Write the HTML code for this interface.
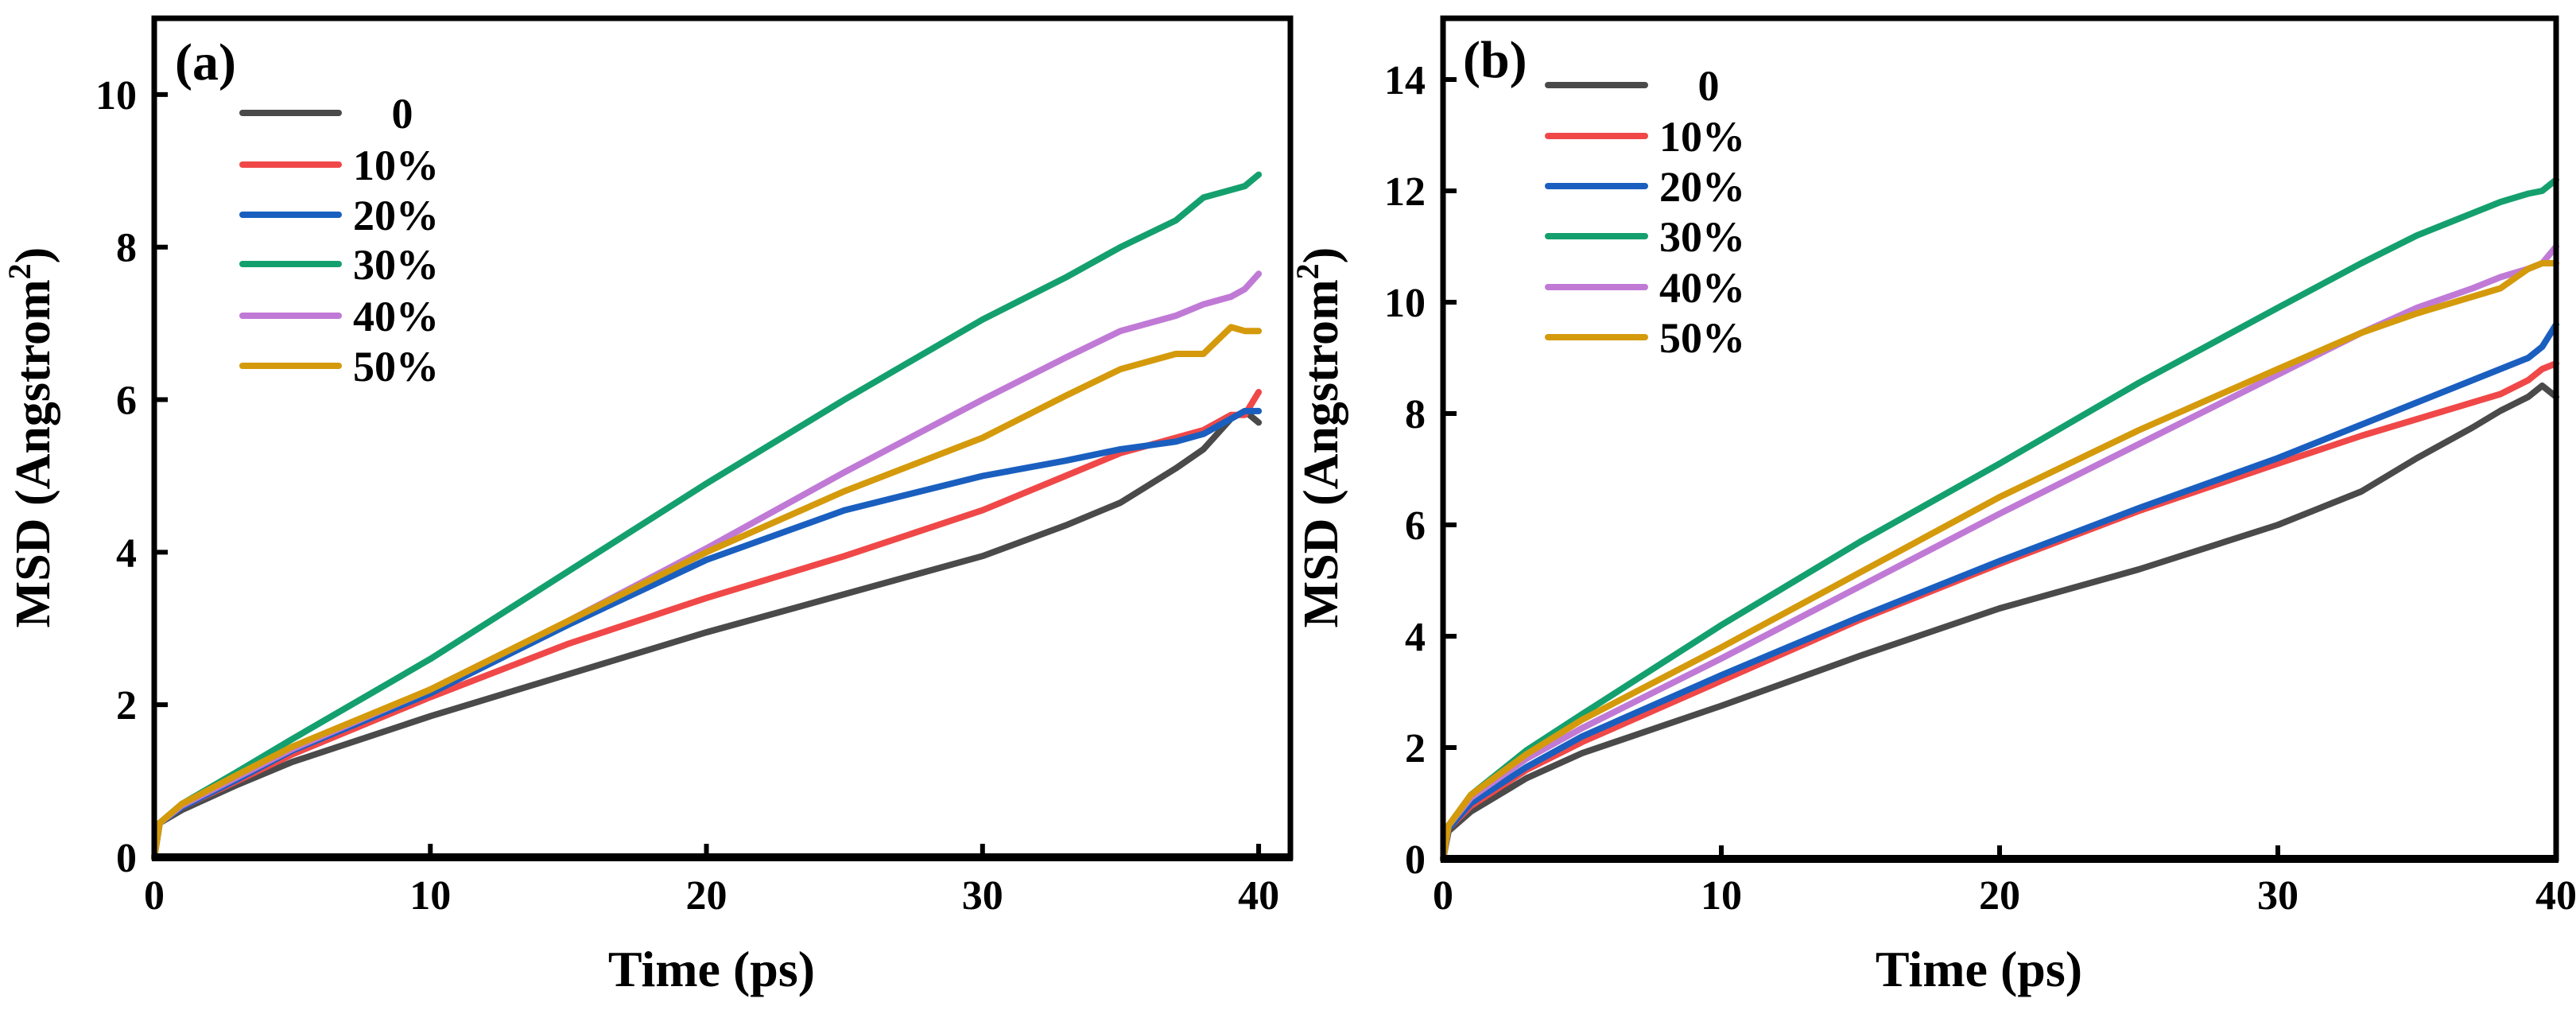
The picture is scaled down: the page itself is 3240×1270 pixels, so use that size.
<!DOCTYPE html>
<html><head><meta charset="utf-8"><style>
html,body{margin:0;padding:0;background:#fff;}
svg{display:block;}
text{font-family:"Liberation Serif",serif;font-weight:bold;fill:#000;}
</style></head>
<body>
<svg id="fig" width="3240" height="1270" viewBox="0 0 3240 1270" xmlns="http://www.w3.org/2000/svg"></svg>
<script>
const times = [0,0.2,1,3,5,10,15,20,25,30,33,35,37,38,39,39.5,40];
const seriesLabels = ["0","10%","20%","30%","40%","50%"];
const seriesColors = ["#4a4a4a","#f04848","#1a5fbf","#14a06e","#c07ad6","#d49a0c"];
const aGrey   = [0,0.45,0.62,0.95,1.25,1.85,2.4,2.95,3.45,3.95,4.35,4.65,5.1,5.35,5.75,5.85,5.7];
const aRed    = [0,0.45,0.66,1.0,1.35,2.1,2.8,3.4,3.95,4.55,5.0,5.3,5.5,5.6,5.8,5.8,6.1];
const aBlue   = [0,0.45,0.66,1.02,1.4,2.15,3.05,3.9,4.55,5.0,5.2,5.35,5.45,5.55,5.75,5.85,5.85];
const aGreen  = [0,0.45,0.7,1.12,1.55,2.6,3.75,4.9,6.0,7.05,7.6,8.0,8.35,8.65,8.75,8.8,8.95];
const aPurple = [0,0.45,0.68,1.05,1.42,2.2,3.1,4.05,5.05,6.0,6.55,6.9,7.1,7.25,7.35,7.45,7.65];
const aGold   = [0,0.45,0.7,1.08,1.45,2.2,3.1,4.0,4.8,5.5,6.05,6.4,6.6,6.6,6.95,6.9,6.9];
const bGrey   = [0,0.5,0.85,1.45,1.9,2.75,3.65,4.5,5.2,6.0,6.6,7.2,7.75,8.05,8.3,8.5,8.3];
const bRed    = [0,0.55,0.95,1.6,2.1,3.2,4.3,5.3,6.25,7.1,7.6,7.9,8.2,8.35,8.6,8.8,8.9];
const bBlue   = [0,0.55,1.0,1.65,2.2,3.3,4.35,5.35,6.3,7.2,7.8,8.2,8.6,8.8,9.0,9.2,9.6];
const bGreen  = [0,0.6,1.15,1.95,2.6,4.2,5.7,7.1,8.55,9.9,10.7,11.2,11.6,11.8,11.95,12.0,12.2];
const bPurple = [0,0.6,1.1,1.8,2.35,3.6,4.9,6.2,7.45,8.7,9.45,9.9,10.25,10.45,10.6,10.7,11.0];
const bGold   = [0,0.6,1.15,1.88,2.5,3.8,5.15,6.5,7.7,8.8,9.45,9.8,10.1,10.25,10.6,10.7,10.7];
const xTicks = [0,10,20,30,40];
const aYTicks = [0,2,4,6,8,10];
const bYTicks = [0,2,4,6,8,10,12,14];

const NS="http://www.w3.org/2000/svg";
const svg=document.getElementById('fig');
function mk(tag,attrs,parent){const e=document.createElementNS(NS,tag);for(const k in attrs)e.setAttribute(k,attrs[k]);(parent||svg).appendChild(e);return e;}

function panel(p){
  const g=mk('g',{});
  
  
  const sx=t=>p.left+(t-0)/(p.xmax)*(p.right-p.left);
  const sy=v=>p.bottom-(v/p.ymax)*(p.bottom-p.top);
  p.series.forEach((vals,i)=>{
    let d='';
    times.forEach((t,j)=>{d+=(j?'L':'M')+sx(t).toFixed(1)+' '+sy(vals[j]).toFixed(1);});
    const path=mk('path',{d:d,fill:'none',stroke:seriesColors[i],'stroke-width':8,'stroke-linejoin':'round','stroke-linecap':'round'},g);
    
    
  });
  const fr=mk('rect',{x:p.left,y:p.top,width:p.right-p.left,height:p.bottom-p.top,fill:'none',stroke:'#000','stroke-width':7},g);
  
  
  mk('line',{x1:p.left-3,x2:p.right+3,y1:p.bottom,y2:p.bottom,stroke:'#000','stroke-width':10},g);
  xTicks.forEach(t=>{
    mk('line',{x1:sx(t),x2:sx(t),y1:p.bottom,y2:p.bottom-17,stroke:'#000','stroke-width':6},g);
    const tx=mk('text',{x:sx(t),y:1143,'text-anchor':'middle','font-size':52},g);
    tx.textContent=t;
    
    
  });
  p.yTicks.forEach(v=>{
    mk('line',{x1:p.left,x2:p.left+17,y1:sy(v),y2:sy(v),stroke:'#000','stroke-width':6},g);
    const ty=mk('text',{x:p.left-22,y:sy(v)+18,'text-anchor':'end','font-size':52},g);
    ty.textContent=v;
    
    
  });
  const xt=mk('text',{x:p.xTitleX,y:1240,'text-anchor':'middle','font-size':64},g);
  xt.textContent='Time (ps)';
  
  
  const yt=mk('text',{x:0,y:0,'text-anchor':'middle','font-size':62,transform:'translate('+p.yTitleX+',550) rotate(-90)'},g);
  yt.innerHTML='MSD (Angstrom<tspan dy="-24" font-size="40">2</tspan><tspan dy="24">)</tspan>';
  
  
  const lb=mk('text',{x:p.labelX,y:p.labelY,'font-size':66},g);
  lb.textContent='('+p.id+')';
  
  
  seriesLabels.forEach((s,i)=>{
    const y=p.legY[i];
    const lg=mk('g',{},g);
    
    
    mk('line',{x1:p.legX1,x2:p.legX2,y1:y,y2:y,stroke:seriesColors[i],'stroke-width':8,'stroke-linecap':'round'},lg);
    const tt=mk('text',{x:i===0?p.legX2+80:p.legX2+18,y:y+19,'text-anchor':i===0?'middle':'start','font-size':54},lg);
    tt.textContent=s;
  });
}
panel({id:'a',left:194,right:1623,top:23,bottom:1078,xmax:41.15,ymax:11,yTicks:aYTicks,
  series:[aGrey,aRed,aBlue,aGreen,aPurple,aGold],xTitleX:895,yTitleX:62,labelX:220,labelY:100,
  legX1:305,legX2:426,legY:[142,207,270,332,397,460]});
panel({id:'b',left:1815,right:3215,top:23,bottom:1080,xmax:40,ymax:15.1,yTicks:bYTicks,
  series:[bGrey,bRed,bBlue,bGreen,bPurple,bGold],xTitleX:2489,yTitleX:1682,labelX:1840,labelY:97,
  legX1:1947,legX2:2069,legY:[107,171,234,297,361,424]});
</script>
</body></html>
